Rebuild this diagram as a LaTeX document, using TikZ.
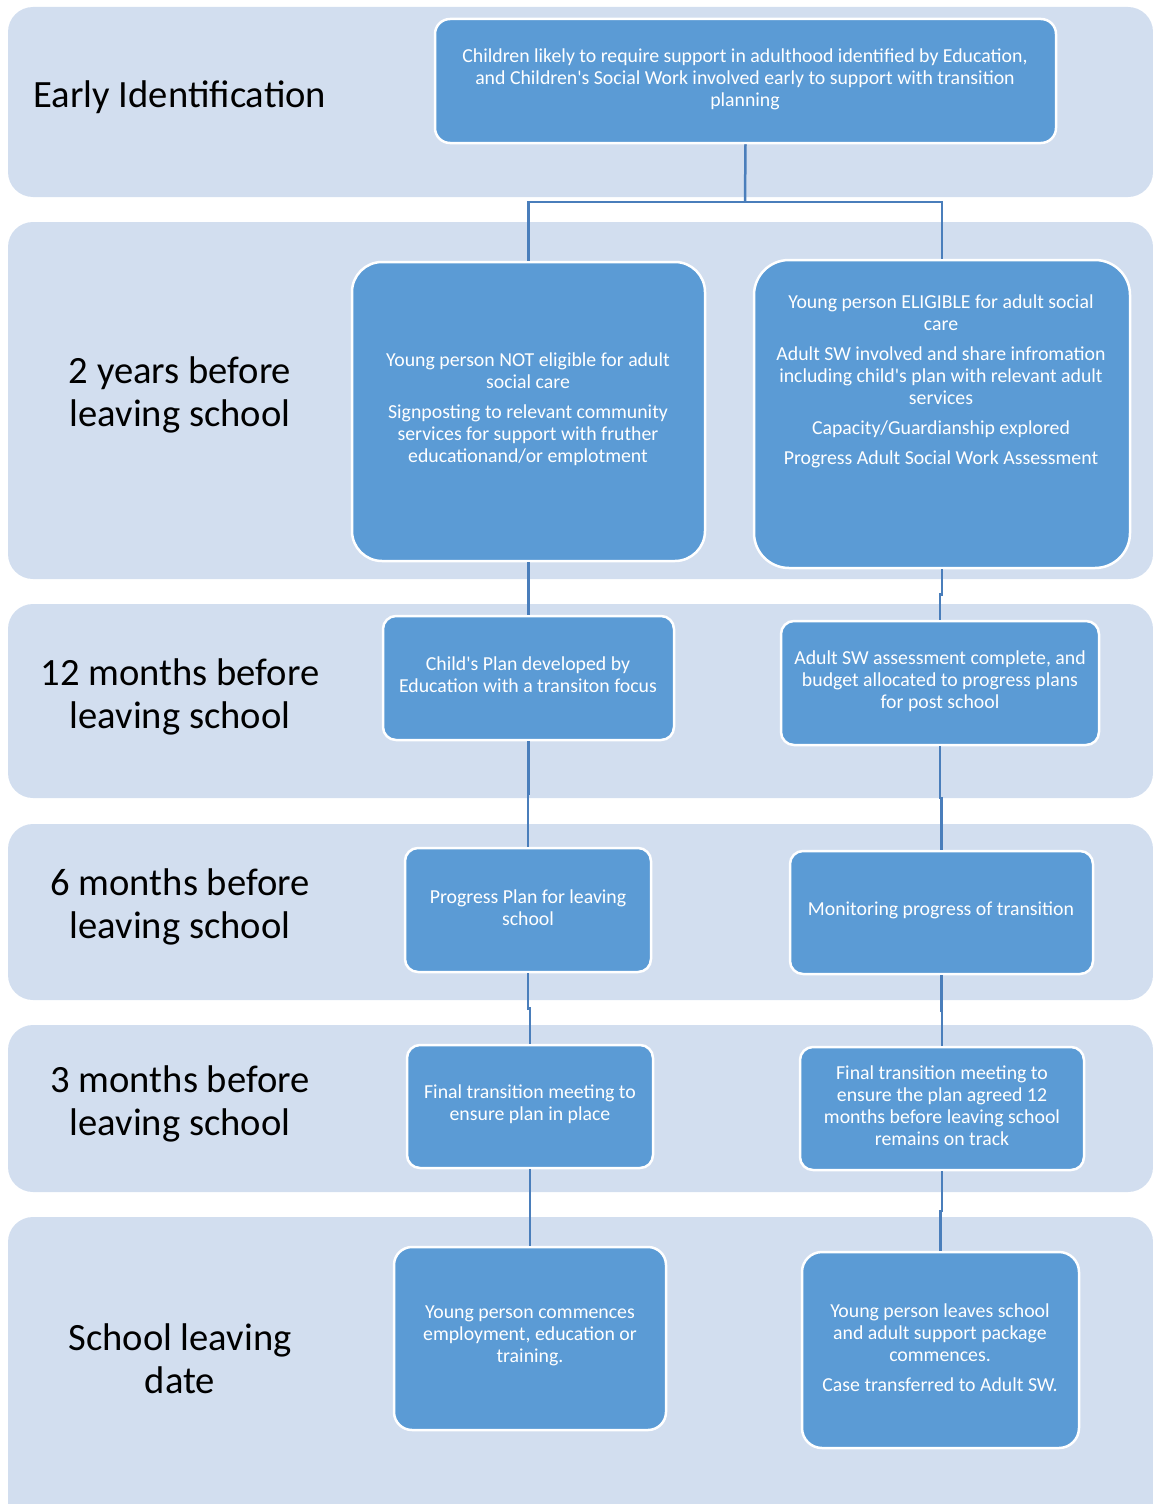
\documentclass[tikz,border=0pt]{standalone}
\usepackage{fontspec}
\setmainfont{Carlito}[Ligatures=TeXOff]
\usetikzlibrary{calc}
\definecolor{bandc}{HTML}{D2DEEF}
\definecolor{boxc}{HTML}{5B9BD5}
\definecolor{linec}{HTML}{4A7EBB}
\begin{document}
\begin{tikzpicture}[x=1pt,y=-1pt,
  band/.style={fill=bandc, rounded corners=25pt},
  box/.style={draw=white, line width=2.5pt, fill=boxc, rounded corners=#1, inner sep=0pt},
  btxt/.style={text=white, font=\fontsize{19.8}{22}\selectfont, align=center, inner sep=0pt},
  lbl/.style={text=black, font=\fontsize{38.6}{43}\selectfont, align=center, inner sep=0pt},
  conn/.style={draw=linec, line width=2.5pt}]
\useasboundingbox (0,0) rectangle (1153,1504);
% bands
\fill[band] (8,7) rectangle (1153,197);
\fill[band] (8,222) rectangle (1153,579);
\fill[band] (8,604) rectangle (1153,798);
\fill[band] (8,824) rectangle (1153,1000);
\fill[band] (8,1025) rectangle (1153,1192);
\fill[band] (8,1217) rectangle (1153,1540);
% labels
\node[lbl] (L1) at (180,97) {Early Identification};
\node[lbl] (L2) at (180,395) {2 years before\\leaving school};
\node[lbl] (L3) at (180,697) {12 months before\\leaving school};
\node[lbl] (L4) at (180,907) {6 months before\\leaving school};
\node[lbl] (L5) at (180,1104) {3 months before\\leaving school};
\node[lbl] (L6) at (180,1359) {School leaving\\date};
% boxes
\node[box=15pt, minimum width=621pt, minimum height=124pt] (top) at (745.5,81) {};
\node[box=30pt, minimum width=353pt, minimum height=299pt] (l2) at (528.5,411.5) {};
\node[box=35pt, minimum width=376pt, minimum height=308pt] (r2) at (942,414) {};
\node[box=13pt, minimum width=291pt, minimum height=124pt] (l3) at (528.5,678) {};
\node[box=13pt, minimum width=318pt, minimum height=124pt] (r3) at (940,683) {};
\node[box=13pt, minimum width=246pt, minimum height=124pt] (l4) at (528,910) {};
\node[box=13pt, minimum width=303pt, minimum height=123pt] (r4) at (941.5,912.5) {};
\node[box=13pt, minimum width=246pt, minimum height=123pt] (l5) at (530,1106.5) {};
\node[box=13pt, minimum width=284pt, minimum height=123pt] (r5) at (942,1108.5) {};
\node[box=18pt, minimum width=272pt, minimum height=183pt] (l6) at (530,1338.5) {};
\node[box=20pt, minimum width=277pt, minimum height=196pt] (r6) at (940.5,1350) {};
% box texts
\node[btxt] (topT) at (745,79) {Children likely to require support in adulthood identified by Education,\\and Children's Social Work involved early to support with transition\\planning};
\node[btxt] (l2T) at (528,409) {Young person NOT eligible for adult\\social care\\[8pt]Signposting to relevant community\\services for support with fruther\\educationand/or emplotment};
\node[btxt] (r2T) at (941,381) {Young person ELIGIBLE for adult social\\care\\[8pt]Adult SW involved and share infromation\\including child's plan with relevant adult\\services\\[8pt]Capacity/Guardianship explored\\[8pt]Progress Adult Social Work Assessment};
\node[btxt] (l3T) at (528,675) {Child's Plan developed by\\Education with a transiton focus};
\node[btxt] (r3T) at (940,681) {Adult SW assessment complete, and\\budget allocated to progress plans\\for post school};
\node[btxt] (l4T) at (528,908) {Progress Plan for leaving\\school};
\node[btxt] (r4T) at (941,910) {Monitoring progress of transition};
\node[btxt] (l5T) at (530,1104) {Final transition meeting to\\ensure plan in place};
\node[btxt] (r5T) at (942,1106) {Final transition meeting to\\ensure the plan agreed 12\\months before leaving school\\remains on track};
\node[btxt] (l6T) at (530,1336) {Young person commences\\employment, education or\\training.};
\node[btxt] (r6T) at (940,1348) {Young person leaves school\\and adult support package\\commences.\\[8pt]Case transferred to Adult SW.};
% connectors
\coordinate (j) at (745,202);
\draw[conn] (top.south) -- (j);
\draw[conn] (j) -| (l2.north);
\draw[conn] (j) -| (r2.north);
\foreach \a/\b in {l2/l3,l3/l4,l4/l5,l5/l6,r2/r3,r3/r4,r4/r5,r5/r6}{
  \draw[conn] (\a.south) |- ($(\a.south)!0.5!(\b.north)$) -| (\b.north);
}
\end{tikzpicture}
\end{document}
